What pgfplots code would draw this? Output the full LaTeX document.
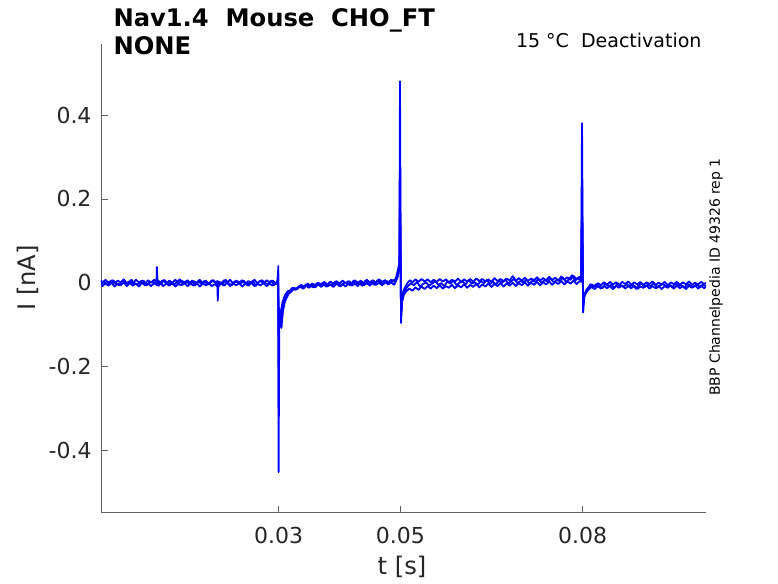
\documentclass[border=0pt]{standalone}
\usepackage{fontspec}
\setmainfont{DejaVu Sans}
\usepackage{pgfplots}
\pgfplotsset{compat=1.18}
\usepackage{pgfplotstable}
\definecolor{axgray}{rgb}{0.38,0.38,0.38}
\definecolor{txt}{rgb}{0.15,0.15,0.15}
\pgfplotstableread{
t i
0.00076 0.006
0.001 -0.001
0.0015 0.007
0.002 0.000
0.0025 0.006
0.003 -0.002
0.0035 0.005
0.004 0.001
0.0045 0.008
0.005 -0.001
0.0055 0.004
0.006 -0.002
0.0065 0.007
0.007 0.001
0.0075 0.005
0.008 -0.002
0.0085 0.006
0.009 0.000
0.0095 0.007
0.0099 0.002
0.00995 0.038
0.0101 -0.006
0.0103 0.004
0.0107 -0.003
0.011 0.006
0.0115 -0.002
0.012 0.005
0.0125 0.000
0.013 0.007
0.0135 -0.002
0.014 0.005
0.0145 0.001
0.015 0.006
0.0155 -0.003
0.016 0.004
0.0165 0.000
0.017 0.007
0.0175 -0.001
0.018 0.005
0.0185 -0.002
0.019 0.006
0.0195 0.001
0.0199 0.004
0.01997 -0.043
0.0201 0.003
0.0205 -0.002
0.021 0.006
0.0215 0.000
0.022 0.007
0.0225 -0.002
0.023 0.005
0.0235 0.001
0.024 0.006
0.0245 -0.003
0.025 0.004
0.0255 0.000
0.026 0.007
0.0265 -0.001
0.027 0.005
0.0275 -0.002
0.028 0.006
0.0285 0.001
0.029 0.005
0.0295 -0.001
0.02985 0.004
0.02993 0.040
0.02998 -0.452
0.0301 -0.060
0.03045 -0.108
0.0307 -0.068
0.0310 -0.046
0.0313 -0.036
0.0316 -0.027
0.032 -0.022
0.0325 -0.015
0.033 -0.013
0.0335 -0.008
0.034 -0.010
0.0345 -0.004
0.035 -0.008
0.0355 -0.002
0.036 -0.006
0.0365 0.000
0.037 -0.005
0.0375 0.002
0.038 -0.004
0.0385 0.003
0.039 -0.003
0.0395 0.004
0.04 -0.002
0.0405 0.005
0.041 -0.001
0.0415 0.004
0.042 -0.002
0.0425 0.006
0.043 0.000
0.0435 0.005
0.044 -0.001
0.0445 0.007
0.045 0.001
0.0455 0.006
0.046 0.000
0.0465 0.008
0.047 0.002
0.0475 0.006
0.048 0.001
0.0485 0.007
0.049 0.003
0.0493 0.012
0.0496 0.030
0.04985 0.047
0.04995 0.481
0.05012 -0.096
0.0503 -0.042
0.0505 -0.020
0.0508 -0.010
0.0512 0.000
0.0516 0.006
0.052 0.001
0.0525 0.008
0.053 0.002
0.0535 0.009
0.054 0.003
0.0545 0.008
0.055 0.001
0.0555 0.007
0.056 0.002
0.0565 0.009
0.057 0.003
0.0575 0.008
0.058 0.001
0.0585 0.007
0.059 0.003
0.0595 0.010
0.06 0.002
0.0605 0.008
0.061 0.003
0.0615 0.009
0.062 0.002
0.0625 0.010
0.063 0.004
0.0635 0.009
0.064 0.003
0.0645 0.008
0.065 0.002
0.0655 0.011
0.066 0.004
0.0665 0.009
0.067 0.003
0.0675 0.010
0.068 0.005
0.0685 0.016
0.069 0.004
0.0695 0.011
0.07 0.005
0.0705 0.012
0.071 0.004
0.0715 0.010
0.072 0.006
0.0725 0.013
0.073 0.005
0.0735 0.011
0.074 0.006
0.0745 0.014
0.075 0.007
0.0755 0.012
0.076 0.005
0.0765 0.015
0.077 0.008
0.0775 0.013
0.078 0.007
0.0785 0.016
0.079 0.009
0.0795 0.014
0.07975 0.012
0.0799 0.381
0.08008 -0.071
0.0803 -0.030
0.0806 -0.018
0.081 -0.010
0.0815 -0.004
0.082 -0.009
0.0825 -0.001
0.083 -0.006
0.0835 0.001
0.084 -0.005
0.0845 0.002
0.085 -0.004
0.0855 0.001
0.086 -0.006
0.0865 0.002
0.087 -0.003
0.0875 0.003
0.088 -0.005
0.0885 0.001
0.089 -0.004
0.0895 0.002
0.09 -0.006
0.0905 0.001
0.091 -0.003
0.0915 0.003
0.092 -0.005
0.0925 0.000
0.093 -0.004
0.0935 0.002
0.094 -0.006
0.0945 0.001
0.095 -0.003
0.0955 0.002
0.096 -0.005
0.0965 0.001
0.097 -0.004
0.0975 0.003
0.098 -0.005
0.0985 0.000
0.099 -0.004
0.0995 0.002
0.1 -0.003
0.1003 0.000
}\sweepA
\pgfplotstableread{
t i
0.00076 -0.002
0.001 -0.008
0.0015 -0.001
0.002 -0.007
0.0025 0.000
0.003 -0.009
0.0035 -0.002
0.004 -0.006
0.0045 0.001
0.005 -0.008
0.0055 -0.001
0.006 -0.007
0.0065 -0.002
0.007 -0.009
0.0075 0.000
0.008 -0.006
0.0085 -0.002
0.009 -0.008
0.0095 -0.001
0.01 -0.006
0.0105 -0.001
0.011 -0.008
0.0115 -0.002
0.012 -0.007
0.0125 0.000
0.013 -0.009
0.0135 -0.003
0.014 -0.006
0.0145 -0.001
0.015 -0.008
0.0155 -0.002
0.016 -0.007
0.0165 0.000
0.017 -0.009
0.0175 -0.002
0.018 -0.006
0.0185 -0.001
0.019 -0.008
0.0195 -0.003
0.02 -0.010
0.0205 -0.002
0.021 -0.007
0.0215 0.000
0.022 -0.008
0.0225 -0.002
0.023 -0.006
0.0235 -0.001
0.024 -0.009
0.0245 -0.002
0.025 -0.007
0.0255 0.000
0.026 -0.008
0.0265 -0.003
0.027 -0.006
0.0275 -0.001
0.028 -0.008
0.0285 -0.002
0.029 -0.007
0.0295 -0.001
0.02985 -0.004
0.02993 0.020
0.02998 -0.300
0.03005 -0.090
0.0303 -0.075
0.0306 -0.048
0.031 -0.030
0.0315 -0.020
0.032 -0.018
0.0325 -0.012
0.033 -0.016
0.0335 -0.009
0.034 -0.014
0.0345 -0.007
0.035 -0.012
0.0355 -0.005
0.036 -0.011
0.0365 -0.004
0.037 -0.010
0.0375 -0.003
0.038 -0.009
0.0385 -0.004
0.039 -0.010
0.0395 -0.002
0.04 -0.008
0.0405 -0.003
0.041 -0.009
0.0415 -0.001
0.042 -0.007
0.0425 -0.002
0.043 -0.008
0.0435 0.000
0.044 -0.006
0.0445 -0.001
0.045 -0.007
0.0455 0.001
0.046 -0.005
0.0465 0.000
0.047 -0.006
0.0475 0.002
0.048 -0.004
0.0485 0.001
0.049 -0.005
0.0493 0.004
0.0496 0.015
0.04985 0.035
0.04995 0.300
0.05012 -0.080
0.0503 -0.045
0.0506 -0.028
0.051 -0.020
0.0515 -0.014
0.052 -0.019
0.0525 -0.011
0.053 -0.017
0.0535 -0.009
0.054 -0.015
0.0545 -0.008
0.055 -0.014
0.0555 -0.007
0.056 -0.013
0.0565 -0.006
0.057 -0.014
0.0575 -0.008
0.058 -0.012
0.0585 -0.005
0.059 -0.013
0.0595 -0.006
0.06 -0.011
0.0605 -0.004
0.061 -0.012
0.0615 -0.005
0.062 -0.010
0.0625 -0.003
0.063 -0.011
0.0635 -0.004
0.064 -0.009
0.0645 -0.002
0.065 -0.010
0.0655 -0.003
0.066 -0.008
0.0665 -0.001
0.067 -0.009
0.0675 -0.002
0.068 -0.007
0.0685 0.000
0.069 -0.008
0.0695 -0.001
0.07 -0.006
0.0705 0.001
0.071 -0.007
0.0715 0.000
0.072 -0.005
0.0725 0.002
0.073 -0.006
0.0735 0.001
0.074 -0.004
0.0745 0.003
0.075 -0.005
0.0755 0.002
0.076 -0.003
0.0765 0.004
0.077 -0.004
0.0775 0.003
0.078 -0.002
0.0785 0.005
0.079 -0.003
0.0795 0.004
0.07975 0.002
0.0799 0.250
0.08008 -0.055
0.0803 -0.032
0.0807 -0.021
0.081 -0.016
0.0815 -0.010
0.082 -0.015
0.0825 -0.008
0.083 -0.014
0.0835 -0.007
0.084 -0.013
0.0845 -0.008
0.085 -0.015
0.0855 -0.007
0.086 -0.012
0.0865 -0.006
0.087 -0.014
0.0875 -0.008
0.088 -0.013
0.0885 -0.007
0.089 -0.015
0.0895 -0.009
0.09 -0.012
0.0905 -0.006
0.091 -0.014
0.0915 -0.008
0.092 -0.013
0.0925 -0.007
0.093 -0.015
0.0935 -0.008
0.094 -0.012
0.0945 -0.006
0.095 -0.014
0.0955 -0.007
0.096 -0.013
0.0965 -0.008
0.097 -0.015
0.0975 -0.007
0.098 -0.012
0.0985 -0.006
0.099 -0.014
0.0995 -0.008
0.1 -0.013
0.1003 -0.009
}\sweepB
\pgfplotstableread{
t i
0.00076 0.002
0.00125 0.003
0.00175 -0.005
0.00225 0.001
0.00275 0.006
0.00325 -0.002
0.00375 -0.006
0.00425 0.004
0.00475 0.000
0.00525 -0.003
0.00575 0.007
0.00625 -0.001
0.00675 -0.004
0.00725 0.002
0.00775 0.005
0.00825 -0.006
0.00875 0.001
0.00925 0.003
0.00975 -0.002
0.01025 -0.007
0.01075 0.004
0.01125 0.006
0.01175 -0.003
0.01225 0.000
0.01275 -0.005
0.01325 0.002
0.01375 0.008
0.01425 -0.004
0.01475 0.001
0.01525 -0.001
0.01575 0.005
0.01625 -0.006
0.01675 0.003
0.01725 -0.002
0.01775 0.004
0.01825 -0.005
0.01875 0.000
0.01925 0.006
0.01975 -0.003
0.02025 0.002
0.02075 -0.004
0.02125 0.007
0.02175 -0.001
0.02225 -0.006
0.02275 0.003
0.02325 0.001
0.02375 -0.002
0.02425 0.005
0.02475 -0.004
0.02525 0.000
0.02575 0.004
0.02625 -0.007
0.02675 0.002
0.02725 0.006
0.02775 -0.001
0.02825 -0.003
0.02875 0.005
0.02925 -0.005
0.02975 0.001
0.02993 0.030
0.02998 -0.200
0.03008 -0.080
0.0304 -0.095
0.0307 -0.055
0.03105 -0.038
0.0314 -0.028
0.0318 -0.020
0.03225 -0.012
0.03275 -0.017
0.03325 -0.009
0.03375 -0.005
0.03425 -0.012
0.03475 -0.002
0.03525 -0.008
0.03575 -0.011
0.03625 -0.001
0.03675 -0.006
0.03725 0.000
0.03775 -0.009
0.03825 -0.003
0.03875 -0.007
0.03925 0.002
0.03975 -0.004
0.04025 -0.008
0.04075 0.001
0.04125 -0.002
0.04175 -0.006
0.04225 0.004
0.04275 -0.003
0.04325 -0.001
0.04375 -0.007
0.04425 0.005
0.04475 -0.002
0.04525 0.001
0.04575 -0.005
0.04625 0.006
0.04675 0.000
0.04725 -0.003
0.04775 0.004
0.04825 -0.002
0.04875 0.005
0.04925 0.008
0.0496 0.022
0.04985 0.040
0.04995 0.200
0.05012 -0.070
0.05035 -0.035
0.05065 -0.022
0.05105 -0.012
0.05125 -0.008
0.05175 -0.001
0.05225 -0.006
0.05275 0.002
0.05325 -0.009
0.05375 -0.003
0.05425 0.001
0.05475 -0.007
0.05525 -0.002
0.05575 0.004
0.05625 -0.005
0.05675 -0.001
0.05725 -0.008
0.05775 0.003
0.05825 -0.002
0.05875 0.005
0.05925 -0.006
0.05975 0.000
0.06025 0.003
0.06075 -0.004
0.06125 0.006
0.06175 -0.002
0.06225 0.001
0.06275 -0.005
0.06325 0.004
0.06375 -0.001
0.06425 0.007
0.06475 -0.003
0.06525 0.002
0.06575 -0.004
0.06625 0.005
0.06675 0.000
0.06725 0.008
0.06775 -0.002
0.06825 0.003
0.06875 0.010
0.06925 -0.001
0.06975 0.004
0.07025 0.001
0.07075 0.007
0.07125 -0.002
0.07175 0.005
0.07225 0.002
0.07275 0.009
0.07325 0.000
0.07375 0.006
0.07425 0.003
0.07475 0.010
0.07525 0.001
0.07575 0.007
0.07625 0.004
0.07675 0.012
0.07725 0.002
0.07775 0.008
0.07825 0.018
0.07875 0.005
0.07925 0.010
0.07975 0.006
0.0799 0.150
0.08008 -0.045
0.0803 -0.028
0.08065 -0.017
0.08105 -0.012
0.08125 -0.004
0.08175 -0.011
0.08225 -0.003
0.08275 -0.009
0.08325 -0.013
0.08375 -0.002
0.08425 -0.008
0.08475 -0.005
0.08525 -0.012
0.08575 -0.001
0.08625 -0.007
0.08675 -0.010
0.08725 -0.003
0.08775 -0.009
0.08825 -0.004
0.08875 -0.014
0.08925 -0.006
0.08975 -0.002
0.09025 -0.010
0.09075 -0.005
0.09125 -0.008
0.09175 -0.001
0.09225 -0.012
0.09275 -0.006
0.09325 -0.003
0.09375 -0.009
0.09425 -0.005
0.09475 -0.011
0.09525 -0.002
0.09575 -0.008
0.09625 -0.006
0.09675 -0.012
0.09725 -0.003
0.09775 -0.007
0.09825 -0.010
0.09875 -0.004
0.09925 -0.009
0.09975 -0.005
0.1003 -0.007
}\sweepC
\begin{document}
\begin{tikzpicture}
\path[use as bounding box] (-101pt,-70.3pt) rectangle (677pt,512.7pt);
\begin{axis}[
  at={(0pt,0pt)}, anchor=south west,
  scale only axis, width=605pt, height=468.7pt,
  xmin=0.00076, xmax=0.1003, ymin=-0.549, ymax=0.570,
  axis lines*=left,
  axis line style={-, draw=axgray, line width=0.8pt},
  tick align=inside, major tick length=6.5pt,
  tick style={draw=axgray, line width=0.8pt},
  xtick={0.03,0.05,0.08}, xticklabels={0.03,0.05,0.08},
  ytick={-0.4,-0.2,0,0.2,0.4},
  yticklabels={-0.4,-0.2,{0\hspace{23pt}},{0.2\hspace{7pt}},{0.4\hspace{7pt}}},
  ticklabel style={font=\fontsize{22}{26}\selectfont, text=txt},
  xticklabel style={anchor=base, inner sep=0pt, yshift=-30.3pt},
  yticklabel style={anchor=east, inner sep=0pt, xshift=-9.3pt},
]
\addplot[blue, line width=1.8pt, line join=round] table[x=t,y=i] {\sweepB};
\addplot[blue, line width=1.8pt, line join=round] table[x=t,y=i] {\sweepC};
\addplot[blue, line width=1.8pt, line join=round] table[x=t,y=i] {\sweepA};
\end{axis}
\node[anchor=base west, inner sep=0pt, font=\fontsize{24.2}{29}\selectfont\bfseries] at (12.3pt,486pt) {Nav1.4\ \ Mouse\ \ CHO\_FT};
\node[anchor=base west, inner sep=0pt, font=\fontsize{24.2}{29}\selectfont\bfseries] at (12.3pt,457.7pt) {NONE};
\node[anchor=base east, inner sep=0pt, font=\fontsize{19}{23}\selectfont] at (600.7pt,465.4pt) {15 °C\ \ Deactivation};
\node[rotate=90, anchor=center, inner sep=0pt, font=\fontsize{14}{17}\selectfont] at (615pt,235.7pt) {BBP Channelpedia ID 49326 rep 1};
\node[rotate=90, anchor=center, inner sep=0pt, text=txt, font=\fontsize{24.2}{29}\selectfont] at (-73pt,234.7pt) {I [nA]};
\node[anchor=base, inner sep=0pt, text=txt, font=\fontsize{24.2}{29}\selectfont] at (301pt,-61.3pt) {t [s]};
\end{tikzpicture}
\end{document}
